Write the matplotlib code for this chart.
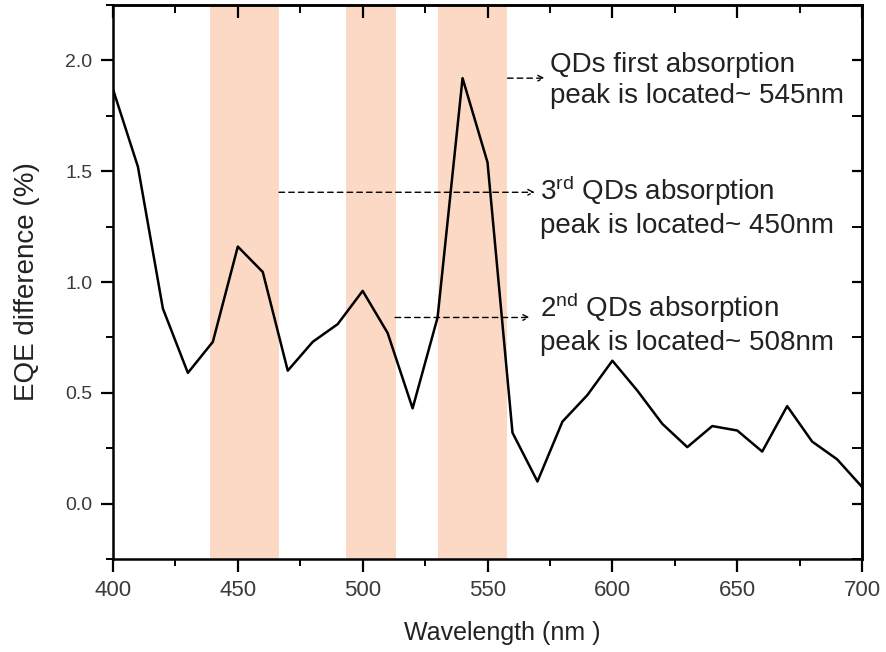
import matplotlib
matplotlib.use("Agg")
import matplotlib.pyplot as plt
from matplotlib.ticker import MultipleLocator

plt.rcParams['font.family'] = ['Liberation Sans', 'DejaVu Sans']
plt.rcParams['mathtext.default'] = 'regular'

# data
wavelength = [400, 410, 420, 430, 440, 450, 460, 470, 480, 490, 500,
              510, 520, 530, 540, 550, 560, 570, 580, 590, 600,
              610, 620, 630, 640, 650, 660, 670, 680, 690, 700]
eqe_diff = [1.87, 1.52, 0.88, 0.59, 0.73, 1.16, 1.045, 0.60, 0.73, 0.81, 0.96,
            0.77, 0.43, 0.84, 1.92, 1.54, 0.32, 0.10, 0.37, 0.49, 0.645,
            0.51, 0.36, 0.255, 0.35, 0.33, 0.235, 0.44, 0.28, 0.20, 0.075]

bands = [(439, 466.5), (493.5, 513.5), (530, 558)]

notes = ["QDs first absorption\npeak is located~ 545nm",
         "3$^{rd}$ QDs absorption\npeak is located~ 450nm",
         "2$^{nd}$ QDs absorption\npeak is located~ 508nm"]
note_arrow_start = [(558, 1.92), (466.5, 1.405), (513, 0.84)]
note_arrow_end = [(573, 1.92), (569, 1.405), (567, 0.84)]
note_text_pos = [(575, 1.91), (571, 1.34), (571, 0.815)]

band_color = '#fbd9c5'

fig = plt.figure(figsize=(8.86, 6.52), dpi=100)
ax = fig.add_axes([0.1275, 0.1426, 0.8455, 0.8497])

for lo, hi in bands:
    ax.axvspan(lo, hi, color=band_color, lw=0, zorder=0)

ax.plot(wavelength, eqe_diff, color='black', lw=1.8, zorder=3)

for (x0, y0), (x1, y1), (tx, ty), txt in zip(note_arrow_start, note_arrow_end,
                                             note_text_pos, notes):
    ax.annotate('', xy=(x1, y1), xytext=(x0, y0),
                arrowprops=dict(arrowstyle='->', linestyle=(0, (4, 3)),
                                color='black', lw=1.0, shrinkA=0, shrinkB=0))
    ax.text(tx, ty, txt, fontsize=20, va='center', ha='left',
            color='#222222', linespacing=1.25)

ax.set_xlim(400, 700)
ax.set_ylim(-0.25, 2.25)
ax.xaxis.set_major_locator(MultipleLocator(50))
ax.xaxis.set_minor_locator(MultipleLocator(25))
ax.yaxis.set_major_locator(MultipleLocator(0.5))
ax.yaxis.set_minor_locator(MultipleLocator(0.25))
ax.yaxis.set_major_formatter(plt.FormatStrFormatter('%.1f'))

ax.tick_params(which='major', direction='out', length=9, width=1.6,
               colors='black', labelcolor='#3a3a3a')
ax.tick_params(axis='x', which='major', labelsize=16, pad=6)
ax.tick_params(axis='y', which='major', labelsize=14, pad=6)
ax.tick_params(which='minor', direction='out', length=5, width=1.4)

for side in ax.spines:
    ax.spines[side].set_linewidth(1.8)

top = ax.secondary_xaxis('top')
top.xaxis.set_major_locator(MultipleLocator(50))
top.xaxis.set_minor_locator(MultipleLocator(25))
top.tick_params(which='major', direction='in', length=9, width=1.6, labeltop=False)
top.tick_params(which='minor', direction='in', length=6, width=1.4)
top.spines['top'].set_linewidth(1.8)

right = ax.secondary_yaxis('right')
right.yaxis.set_major_locator(MultipleLocator(0.5))
right.yaxis.set_minor_locator(MultipleLocator(0.25))
right.tick_params(which='major', direction='in', length=7, width=1.6, labelright=False)
right.tick_params(which='minor', direction='in', length=7, width=1.4)
right.spines['right'].set_linewidth(1.8)

ax.set_xlabel('Wavelength (nm )', fontsize=18, color='#222222')
ax.xaxis.set_label_coords(0.52, -0.112)
ax.set_ylabel('EQE difference (%)', fontsize=20, color='#222222', labelpad=18)

fig.savefig('out.png', dpi=100)
